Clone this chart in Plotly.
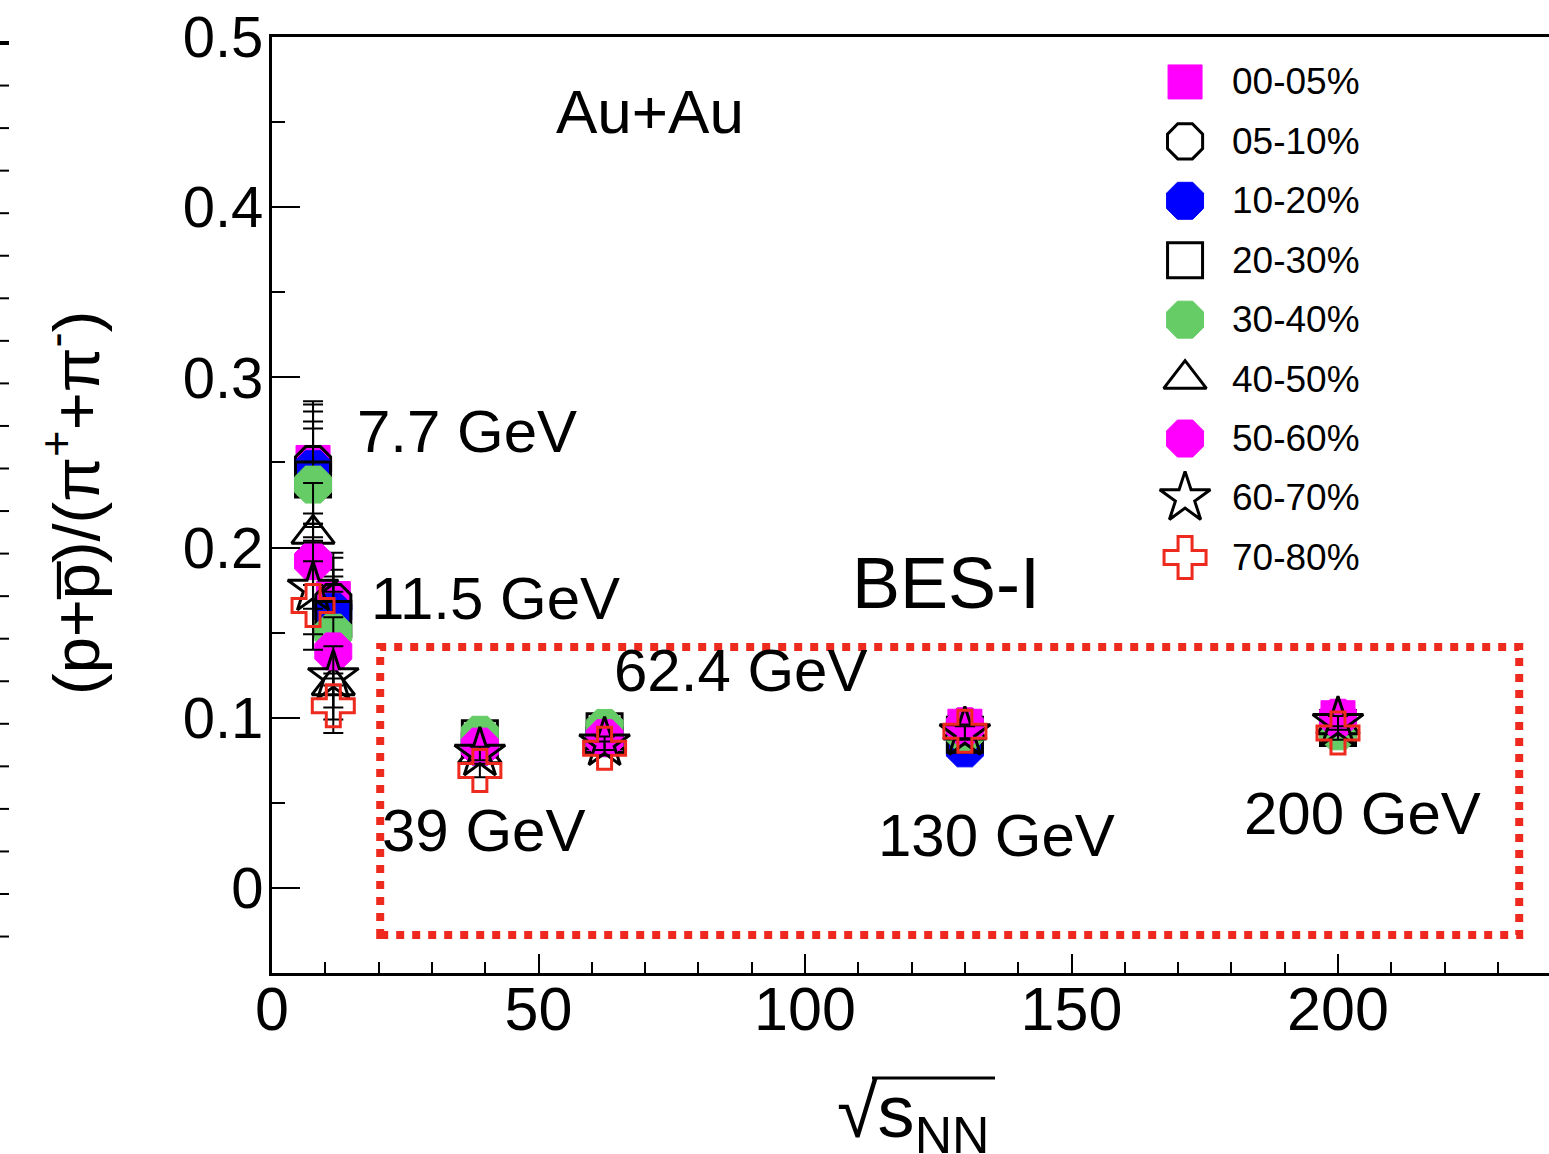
import plotly.graph_objects as go

# Collision energies (GeV)
energies = [7.7, 11.5, 39, 62.4, 130, 200]
energy_labels = ["7.7 GeV", "11.5 GeV", "39 GeV", "62.4 GeV", "130 GeV", "200 GeV"]

# Centrality classes
centralities = ["00-05%", "05-10%", "10-20%", "20-30%", "30-40%",
                "40-50%", "50-60%", "60-70%", "70-80%"]

# (p+pbar)/(pi+ + pi-) ratio per centrality class, one entry per energy
ratio_00_05 = [0.250, 0.170, 0.086, 0.090, 0.095, 0.100]
ratio_05_10 = [0.249, 0.168, 0.087, 0.090, 0.093, 0.099]
ratio_10_20 = [0.246, 0.162, 0.083, 0.088, 0.082, 0.096]
ratio_20_30 = [0.240, 0.158, 0.088, 0.092, 0.090, 0.094]
ratio_30_40 = [0.237, 0.150, 0.090, 0.094, 0.091, 0.092]
ratio_40_50 = [0.208, 0.119, 0.079, 0.085, 0.093, 0.096]
ratio_50_60 = [0.192, 0.139, 0.083, 0.088, 0.095, 0.100]
ratio_60_70 = [0.176, 0.124, 0.079, 0.085, 0.091, 0.097]
ratio_70_80 = [0.166, 0.107, 0.069, 0.082, 0.092, 0.091]

# Uncertainties
err_00_05 = [0.036, 0.027, 0.005, 0.005, 0.005, 0.005]
err_05_10 = [0.035, 0.026, 0.005, 0.005, 0.005, 0.005]
err_10_20 = [0.034, 0.025, 0.005, 0.005, 0.005, 0.005]
err_20_30 = [0.034, 0.025, 0.005, 0.005, 0.005, 0.005]
err_30_40 = [0.033, 0.024, 0.005, 0.005, 0.005, 0.005]
err_40_50 = [0.030, 0.020, 0.004, 0.004, 0.004, 0.004]
err_50_60 = [0.028, 0.020, 0.004, 0.004, 0.004, 0.004]
err_60_70 = [0.027, 0.018, 0.004, 0.004, 0.004, 0.004]
err_70_80 = [0.026, 0.016, 0.004, 0.004, 0.004, 0.004]

ratios = [ratio_00_05, ratio_05_10, ratio_10_20, ratio_20_30, ratio_30_40,
          ratio_40_50, ratio_50_60, ratio_60_70, ratio_70_80]
errors = [err_00_05, err_05_10, err_10_20, err_20_30, err_30_40,
          err_40_50, err_50_60, err_60_70, err_70_80]

# Marker style per centrality class: (symbol, size, colour)
styles = [
    ("square", 34, "#FF00FF"),
    ("octagon-open", 38, "#000000"),
    ("octagon", 40, "#0000FF"),
    ("square-open", 35, "#000000"),
    ("octagon", 40, "#66CC66"),
    ("triangle-up-open", 37, "#000000"),
    ("octagon", 40, "#FF00FF"),
    ("star-open", 38, "#000000"),
    ("cross-open", 35, "#EE2A1E"),
]

FONT = "Liberation Sans, Arial, Helvetica, sans-serif"
W, H = 1549, 1154
ML, MR, MT, MB = 272, 0, 37, 181
PW, PH = W - ML - MR, H - MT - MB


def px_to_paper(px, py):
    return (px - ML) / PW, (H - MB - py) / PH


def marker_style(sym, size, col):
    return dict(symbol=sym, size=size, color=col,
                line=dict(color=col, width=3 if sym.endswith("open") else 1))


fig = go.Figure()

for name, ys, es, (sym, size, col) in zip(centralities, ratios, errors, styles):
    fig.add_trace(go.Scatter(
        x=energies, y=ys, mode="markers", name=name, showlegend=False,
        error_y=dict(type="data", array=es, visible=True, color="black",
                     thickness=2, width=10),
        marker=marker_style(sym, size, col),
    ))

# Legend keys on an overlay axis spanning the plot area (0..1)
leg_x, leg_y0, leg_dy = 0.715, 0.952, 0.0635
for i, (name, (sym, size, col)) in enumerate(zip(centralities, styles)):
    yk = leg_y0 - i * leg_dy
    fig.add_trace(go.Scatter(
        x=[leg_x], y=[yk], xaxis="x2", yaxis="y2", mode="markers",
        showlegend=False, hoverinfo="skip",
        marker=marker_style(sym, size, col),
    ))
    fig.add_annotation(x=leg_x + 0.0355, y=yk, xref="paper", yref="paper",
                       text=name, showarrow=False, xanchor="left", yanchor="middle",
                       font=dict(family=FONT, size=37, color="black"))

# Energy labels next to each group of points
label_pos = [(15.5, 0.268), (18.2, 0.170), (20.2, 0.034),
             (63.8, 0.128), (113.4, 0.031), (181.9, 0.044)]
for txt, (lx, ly) in zip(energy_labels, label_pos):
    fig.add_annotation(x=lx, y=ly, text=txt, showarrow=False,
                       xanchor="left", yanchor="middle",
                       font=dict(family=FONT, size=60, color="black"))

fig.add_annotation(x=70.9, y=0.456, text="Au+Au", showarrow=False,
                   xanchor="center", yanchor="middle",
                   font=dict(family=FONT, size=62, color="black"))
fig.add_annotation(x=108.4, y=0.179, text="BES-I", showarrow=False,
                   xanchor="left", yanchor="middle",
                   font=dict(family=FONT, size=72, color="black"))

# Axis titles
tx, ty = px_to_paper(72, 503)
fig.add_annotation(x=tx, y=ty, xref="paper", yref="paper", textangle=-90,
                   text="(p+p\u0305)/(\u03c0<sup>+</sup>+\u03c0<sup>-</sup>)",
                   showarrow=False, xanchor="center", yanchor="middle",
                   font=dict(family=FONT, size=65, color="black"))
sx, sy = px_to_paper(913, 1068)
fig.add_annotation(x=sx, y=sy, xref="paper", yref="paper",
                   text="\u221as<sub>NN</sub>", showarrow=False,
                   xanchor="center", yanchor="top",
                   font=dict(family=FONT, size=74, color="black"))
ox0, oy = px_to_paper(872, 1078)
ox1, _ = px_to_paper(995, 1078)
fig.add_shape(type="line", xref="paper", yref="paper", x0=ox0, x1=ox1, y0=oy, y1=oy,
              line=dict(color="black", width=3))

# BES-I selection box
fig.add_shape(type="rect", x0=20.3, x1=234, y0=-0.0276, y1=0.1416,
              line=dict(color="#EE2A1E", width=8, dash="8px,8px"),
              fillcolor="rgba(0,0,0,0)")

# Tick marks of the neighbouring panel's axis at the left edge
for k in range(22):
    py = 43 + k * 42.55
    x0p, yp = px_to_paper(0, py)
    x1p, _ = px_to_paper(9, py)
    fig.add_shape(type="line", xref="paper", yref="paper", x0=x0p, x1=x1p,
                  y0=yp, y1=yp, line=dict(color="black", width=4 if k == 0 else 2))

fig.update_layout(
    width=W, height=H,
    margin=dict(l=ML, r=MR, t=MT, b=MB),
    paper_bgcolor="white", plot_bgcolor="white",
    showlegend=False,
    xaxis=dict(range=[0, PW / 5.33], showgrid=False, zeroline=False,
               showline=True, linecolor="black", linewidth=3, mirror=True,
               ticks="inside", ticklen=19, tickwidth=2, tickcolor="black",
               tickvals=[0, 50, 100, 150, 200],
               minor=dict(dtick=10, ticks="inside", ticklen=11, tickwidth=2,
                          tickcolor="black", showgrid=False),
               tickfont=dict(family=FONT, size=61, color="black"),
               ticklabelstandoff=-19),
    yaxis=dict(range=[-0.05, 0.5], showgrid=False, zeroline=False,
               showline=True, linecolor="black", linewidth=3,
               ticks="inside", ticklen=28, tickwidth=2, tickcolor="black",
               tickvals=[0, 0.1, 0.2, 0.3, 0.4, 0.5],
               ticktext=["0", "0.1", "0.2", "0.3", "0.4", "0.5"],
               minor=dict(dtick=0.05, ticks="inside", ticklen=13, tickwidth=2,
                          tickcolor="black", showgrid=False),
               tickfont=dict(family=FONT, size=58, color="black"),
               ticklabelstandoff=-6),
    xaxis2=dict(overlaying="x", range=[0, 1], visible=False, anchor="y2"),
    yaxis2=dict(overlaying="y", range=[0, 1], visible=False, anchor="x2"),
)

fig.write_html("out.html")
